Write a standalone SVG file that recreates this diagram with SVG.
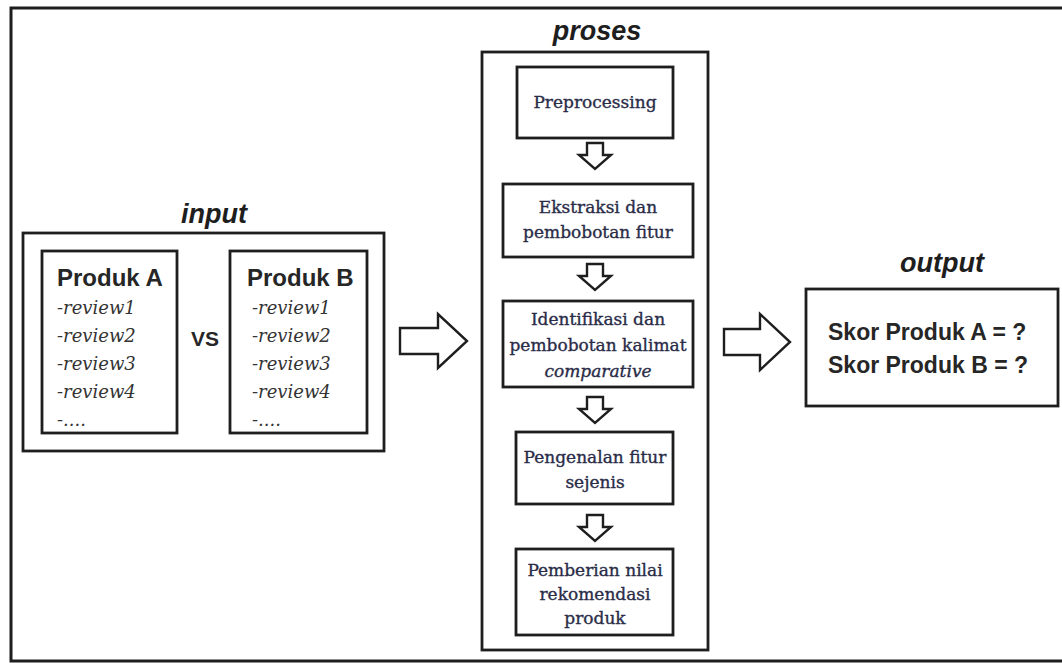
<svg xmlns="http://www.w3.org/2000/svg" width="1062" height="663" viewBox="0 0 1062 663">
<defs>
<style>
.frame{fill:none;stroke:#1e1e1e;stroke-width:3}
.box{fill:#fff;stroke:#1e1e1e;stroke-width:2.8}
.arrow{fill:#fff;stroke:#1e1e1e;stroke-width:2.4;stroke-linejoin:miter}
.lbl{font-family:"Liberation Sans",Arial,sans-serif;font-weight:bold;font-style:italic;font-size:27px;fill:#1e1e1e;text-anchor:middle}
.sans{font-family:"Liberation Sans",Arial,sans-serif;font-weight:bold;fill:#262626}
.proc{font-family:"DejaVu Serif","Liberation Serif",serif;font-size:17px;fill:#2a2c48;stroke:#2a2c48;stroke-width:0.35;text-anchor:middle}
.rev{font-family:"DejaVu Serif","Liberation Serif",serif;font-style:italic;font-size:18px;fill:#333}
</style>
</defs>
<rect width="1062" height="663" fill="#fff"/>
<rect class="frame" x="11" y="8" width="1070" height="653"/>

<g id="input">
<text class="lbl" x="214" y="223">input</text>
<rect class="box" x="23" y="233" width="361" height="218"/>
</g>
<g id="produk-a">
<rect class="box" x="42" y="251" width="135" height="182"/>
<text class="sans" x="57" y="286" font-size="24">Produk A</text>
<text class="rev" x="57" y="314">-review1</text>
<text class="rev" x="57" y="342">-review2</text>
<text class="rev" x="57" y="370">-review3</text>
<text class="rev" x="57" y="398">-review4</text>
<text class="rev" x="57" y="426">-....</text>
</g>
<g id="vs">
<text class="sans" x="205" y="346" font-size="21" text-anchor="middle">VS</text>
</g>
<g id="produk-b">
<rect class="box" x="230" y="251" width="137" height="182"/>
<text class="sans" x="247" y="286" font-size="24">Produk B</text>
<text class="rev" x="252" y="314">-review1</text>
<text class="rev" x="252" y="342">-review2</text>
<text class="rev" x="252" y="370">-review3</text>
<text class="rev" x="252" y="398">-review4</text>
<text class="rev" x="252" y="426">-....</text>
</g>

<g id="proses">
<text class="lbl" x="597" y="40">proses</text>
<rect class="box" x="482" y="52" width="226" height="598"/>
</g>
<g id="preprocessing">
<rect class="box" x="517" y="67" width="156" height="71"/>
<text class="proc" x="595" y="108">Preprocessing</text>
</g>
<g id="ekstraksi">
<rect class="box" x="503" y="184" width="190" height="73"/>
<text class="proc" x="598" y="213">Ekstraksi dan</text>
<text class="proc" x="598" y="238">pembobotan fitur</text>
</g>
<g id="identifikasi">
<rect class="box" x="503" y="301" width="190" height="86"/>
<text class="proc" x="598" y="325">Identifikasi dan</text>
<text class="proc" x="598" y="351">pembobotan kalimat</text>
<text class="proc" x="598" y="377" font-style="italic">comparative</text>
</g>
<g id="pengenalan">
<rect class="box" x="516" y="432" width="157" height="72"/>
<text class="proc" x="595" y="463">Pengenalan fitur</text>
<text class="proc" x="595" y="488">sejenis</text>
</g>
<g id="pemberian">
<rect class="box" x="516" y="549" width="157" height="86"/>
<text class="proc" x="595" y="576">Pemberian nilai</text>
<text class="proc" x="595" y="600">rekomendasi</text>
<text class="proc" x="595" y="624">produk</text>
</g>

<g id="output">
<text class="lbl" x="942" y="272">output</text>
<rect class="box" x="806" y="289" width="252" height="117"/>
<text class="sans" x="828" y="340" font-size="23">Skor Produk A = ?</text>
<text class="sans" x="828" y="373" font-size="23">Skor Produk B = ?</text>
</g>

<g id="connectors">
<path class="arrow" d="M400 328 H438 V314 L467 341 L438 368 V354 H400 Z"/>
<path class="arrow" d="M724 329 H760 V314 L790 342 L760 370 V355 H724 Z"/>
<path class="arrow" d="M587 143 H603 V155 H611 L595 169 L579 155 H587 Z"/>
<path class="arrow" d="M587 264 H603 V276 H611 L595 290 L579 276 H587 Z"/>
<path class="arrow" d="M587 397 H603 V409 H611 L595 423 L579 409 H587 Z"/>
<path class="arrow" d="M587 515 H603 V527 H611 L595 541 L579 527 H587 Z"/>
</g>
</svg>
